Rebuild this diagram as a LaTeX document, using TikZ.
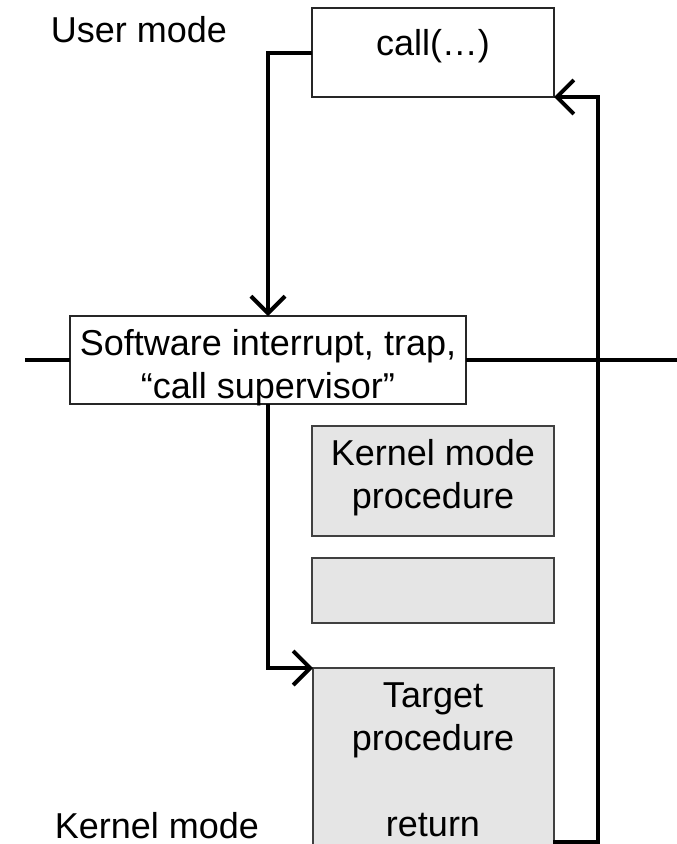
\documentclass[tikz,border=0pt]{standalone}
\usepackage{fontspec}
\setmainfont{Liberation Sans}
\usetikzlibrary{arrows.meta}
\begin{document}
\begin{tikzpicture}[x=1pt,y=-1pt,
  box/.style={draw=black!85, line width=1.3pt, anchor=north west,
              inner sep=0pt, outer sep=0pt},
  kbox/.style={box, draw=black!75, fill=black!10},
  txt/.style={font=\fontsize{36}{43}\selectfont, inner sep=0pt,
              align=center, anchor=base},
  wire/.style={line width=4pt},
  flow/.style={wire, -{Straight Barb[length=17pt,width=34pt]}},
]
\path[use as bounding box, clip] (0,0) rectangle (677,844);

% mode labels
\node[txt] (usr) at (139,42) {User mode};
\node[txt] (kern) at (157,838) {Kernel mode};

% boundary between the two modes
\coordinate (lend) at (25,360);
\coordinate (rend) at (680,360);

% boxes
\node[box, minimum width=242pt, minimum height=89pt] (call) at (312,8) {};
\node[box, fill=white, minimum width=396pt, minimum height=88pt] (trap) at (70,316) {};
\node[kbox, minimum width=242pt, minimum height=110pt] (kproc) at (312,426) {};
\node[kbox, minimum width=242pt, minimum height=65pt] (spare) at (312,558) {};
\node[kbox, minimum width=241pt, minimum height=190pt] (target) at (313,668) {};

\draw[wire] (lend) -- (trap.west);
\draw[wire] (trap.east) -- (rend);

% box texts (base anchor sits on the last line)
\node[txt] (calltxt) at (433,55) {call(…)};
\node[txt] (traptxt) at (268,398) {Software interrupt, trap,\\“call supervisor”};
\node[txt] (kproctxt) at (433,508) {Kernel mode\\procedure};
\node[txt] (targettxt) at (433,836) {Target\\procedure\\[43pt]return};

% control flow
\draw[flow] (call.west) -| (trap.north);
\draw[flow] (trap.south) |- (target.north west);
\coordinate (ret) at (553,842);
\coordinate (rail) at (598,842);
\draw[flow] (ret) -- (rail) -- (rail |- call.south east) -- (call.south east);
\end{tikzpicture}
\end{document}
